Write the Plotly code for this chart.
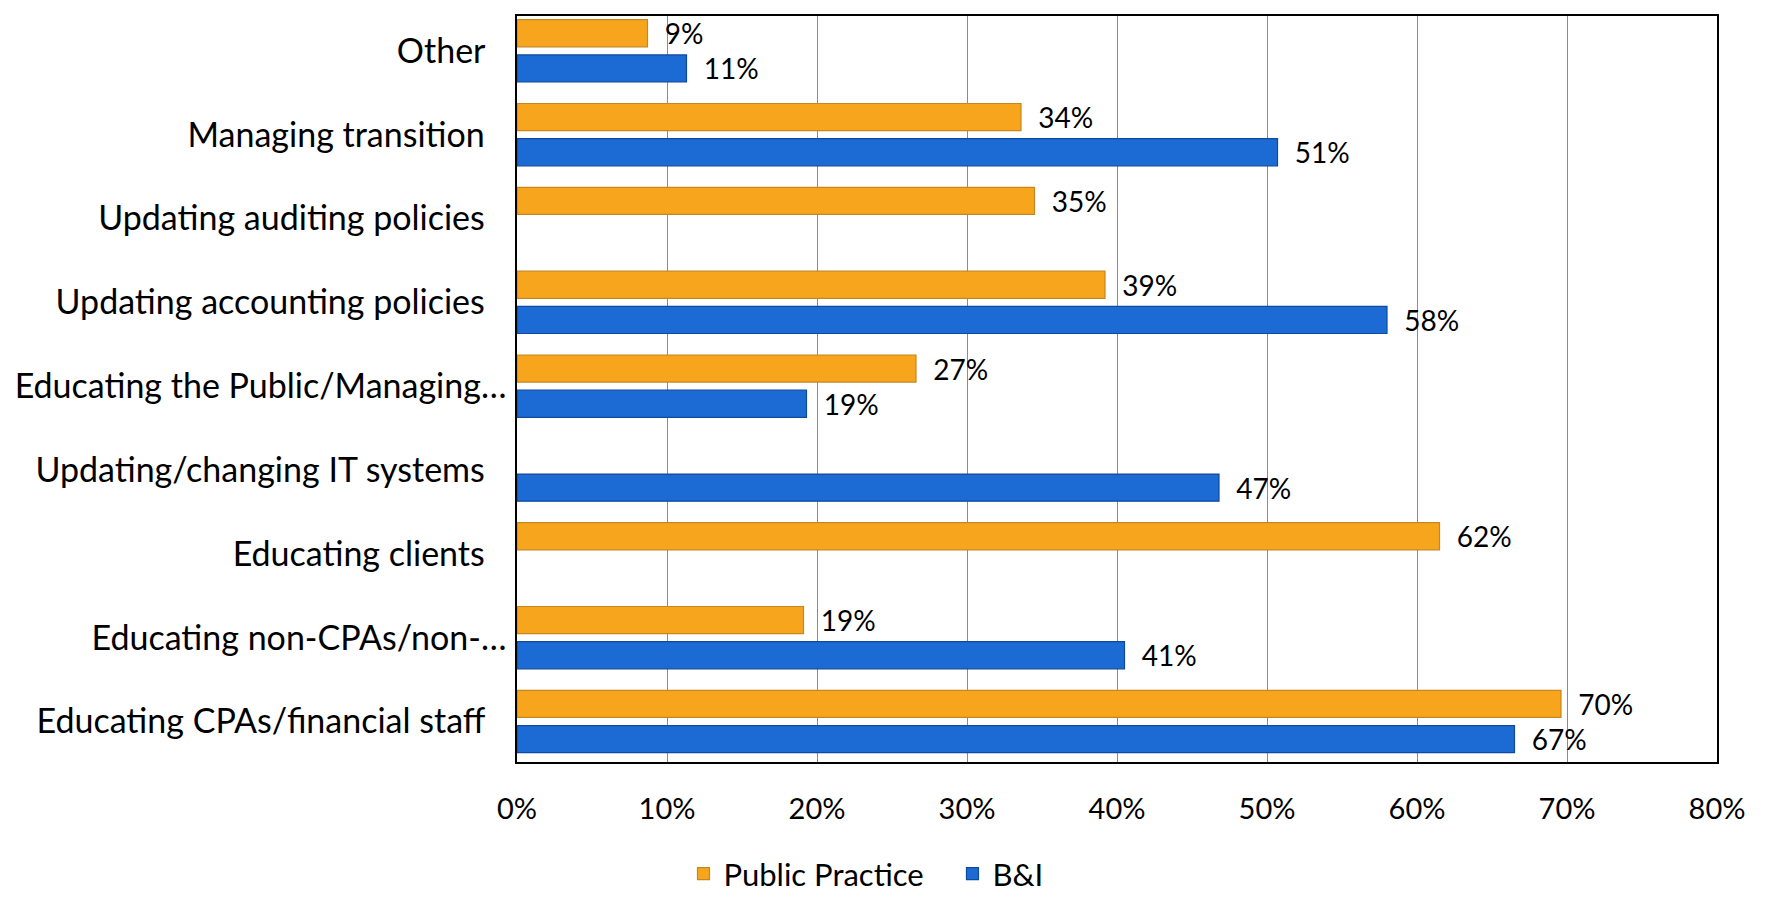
import plotly.graph_objects as go

categories = [
    "Other",
    "Managing transition",
    "Updating auditing policies",
    "Updating accounting policies",
    "Educating the Public/Managing…",
    "Updating/changing IT systems",
    "Educating clients",
    "Educating non-CPAs/non-…",
    "Educating CPAs/financial staff",
]
public_practice = [8.7, 33.6, 34.5, 39.2, 26.6, None, 61.5, 19.1, 69.6]
public_practice_labels = ["9%", "34%", "35%", "39%", "27%", "", "62%", "19%", "70%"]
bi = [11.3, 50.7, None, 58.0, 19.3, 46.8, None, 40.5, 66.5]
bi_labels = ["11%", "51%", "", "58%", "19%", "47%", "", "41%", "67%"]
x_ticks = [0, 10, 20, 30, 40, 50, 60, 70, 80]

FONT = "Lato"
PAD = "\u00a0\u00a0"

# trailing spaces mimic the source's right-aligned label gap
tick_text = [c if c.endswith("…") else c + "\u00a0\u00a0\u2009" for c in categories]

fig = go.Figure()
fig.add_trace(go.Bar(
    y=categories, x=public_practice, name="Public Practice\u00a0\u00a0\u00a0",
    orientation="h",
    marker=dict(color="#F7A51C", line=dict(color="#C7861E", width=1.2)),
    text=[PAD + t if t else "" for t in public_practice_labels],
    textposition="outside", constraintext="none",
    textfont=dict(family=FONT, size=28, color="#000"),
    cliponaxis=False,
))
fig.add_trace(go.Bar(
    y=categories, x=bi, name="B&I", orientation="h",
    marker=dict(color="#1C6AD4", line=dict(color="#0E4A9E", width=1.2)),
    text=[PAD + t if t else "" for t in bi_labels],
    textposition="outside", constraintext="none",
    textfont=dict(family=FONT, size=28, color="#000"),
    cliponaxis=False,
))

# page body has an 8px margin: size the figure so it fits the 1767x905 window
fig.update_layout(
    width=1751, height=889,
    margin=dict(l=509, r=42, t=6, b=135),
    paper_bgcolor="white", plot_bgcolor="white",
    barmode="group", bargap=0.16, bargroupgap=0.23,
    font=dict(family=FONT, color="#000"),
    showlegend=True,
    legend=dict(
        orientation="h", xref="container", yref="container",
        x=0.49, xanchor="center", y=0.026, yanchor="middle",
        font=dict(family=FONT, size=31), traceorder="normal",
    ),
)
fig.update_xaxes(
    range=[0, 80], tickvals=x_ticks, ticktext=[f"{v}%" for v in x_ticks],
    showgrid=True, gridcolor="#8C8C8C", gridwidth=1,
    showline=True, linecolor="#000", linewidth=1.5, mirror=True,
    ticks="", ticklabelstandoff=20,
    tickfont=dict(family=FONT, size=29), zeroline=False,
)
fig.update_yaxes(
    categoryorder="array", categoryarray=categories,
    range=[8.483, -0.4155],
    tickvals=categories, ticktext=tick_text,
    showline=True, linecolor="#000", linewidth=1.5, mirror=True,
    ticks="", ticklabelstandoff=2,
    tickfont=dict(family=FONT, size=34), showgrid=False,
)

fig.write_html("out.html")
